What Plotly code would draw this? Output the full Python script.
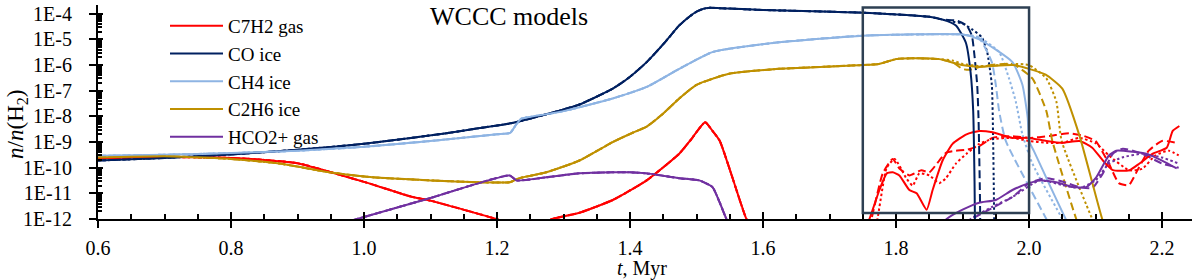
import plotly.graph_objects as go

# ---------------- data (t in Myr, abundance n/n(H2)) ----------------
# C7H2 gas (shared early part, then model variants)
red_t = [0.6, 0.7, 0.8, 0.85, 0.9, 1.0, 1.073, 1.1, 1.199, 1.21,
         1.27, 1.283, 1.324, 1.374, 1.425, 1.474, 1.49, 1.513, 1.524, 1.535, 1.575, 1.58]
red_v = [2.3e-10, 2.6e-10, 2.4e-10, 2.0e-10, 1.5e-10, 2.8e-11, 7.2e-12, 5.2e-12, 1.0e-12, 8e-13,
         7e-13, 1e-12, 1.75e-12, 5.5e-12, 3.2e-11, 3.5e-10, 1.1e-9, 5.9e-9, 2.7e-9, 1.1e-9, 1e-12, 7e-13]
red_solid_t = [1.757, 1.76, 1.775, 1.786, 1.795, 1.805, 1.82, 1.831, 1.846, 1.855, 1.87, 1.885, 1.906,
               1.925, 1.945, 1.975, 2.0, 2.026, 2.05, 2.076, 2.095, 2.111, 2.126, 2.151, 2.166, 2.186,
               2.207, 2.216, 2.226]
red_solid_v = [7e-13, 1e-12, 1.35e-11, 6e-11, 6.6e-11, 5e-11, 1.35e-11, 1e-11, 2.3e-12, 1.35e-11, 1.9e-10,
               8.5e-10, 2e-9, 2.7e-9, 2.4e-9, 1.45e-9, 1.45e-9, 1.1e-9, 9.3e-10, 1.1e-9, 6e-10, 1.9e-10,
               8e-11, 8e-11, 1.45e-10, 3.5e-10, 6e-10, 2.7e-9, 4.2e-9]
red_dash_t = [1.761, 1.763, 1.78, 1.795, 1.805, 1.82, 1.838, 1.85, 1.865, 1.875, 1.89, 1.906, 1.925, 1.945,
              1.975, 2.0, 2.03, 2.06, 2.08, 2.1, 2.12, 2.135, 2.15, 2.165, 2.18, 2.2, 2.225]
red_dash_v = [7e-13, 1e-12, 6e-11, 2.2e-10, 9.3e-11, 5e-11, 8e-11, 6.6e-11, 1.9e-10, 3.8e-10, 4.6e-10, 5e-10,
              7e-10, 1.45e-9, 1.7e-9, 1.45e-9, 1.7e-9, 2.2e-9, 1.8e-9, 1.1e-9, 1.45e-10, 2.5e-11, 2.1e-11,
              1e-10, 4.6e-10, 1.1e-9, 9e-10]
red_dot_t = [1.770, 1.772, 1.786, 1.798, 1.815, 1.825, 1.835, 1.85, 1.865, 1.875, 1.89, 1.906, 1.925, 1.945,
             1.975, 2.0, 2.026, 2.05, 2.076, 2.1, 2.12, 2.15, 2.17, 2.19, 2.21, 2.225]
red_dot_v = [7e-13, 1e-12, 1e-10, 2.2e-10, 4e-11, 2e-11, 6e-11, 5e-11, 2.5e-11, 3.9e-11, 1.45e-10, 3.5e-10,
             8.5e-10, 1.3e-9, 1.45e-9, 1.1e-9, 9.3e-10, 9.3e-10, 1.45e-9, 9e-10, 3e-10, 8e-11, 9e-11, 3e-10,
             4.6e-10, 3e-10]

# CO ice
co_t = [0.6, 0.7, 0.8, 0.9, 1.0, 1.124, 1.174, 1.223, 1.274, 1.324, 1.374, 1.4, 1.425, 1.45, 1.474,
        1.49, 1.5, 1.51, 1.52, 1.535, 1.6, 1.75, 1.85, 1.87]
co_v = [1.9e-10, 2.4e-10, 3.3e-10, 5e-10, 8.5e-10, 2.2e-9, 3.5e-9, 5.5e-9, 1.2e-8, 2.9e-8, 1.2e-7, 3.5e-7,
        1.3e-6, 6.5e-6, 3.5e-5, 8e-5, 1.2e-4, 1.55e-4, 1.7e-4, 1.65e-4, 1.4e-4, 1.1e-4, 7.6e-5, 5.9e-5]
co_solid_t = [1.89, 1.905, 1.912, 1.916, 1.918, 1.919]
co_solid_v = [3.5e-5, 7.4e-6, 5.4e-7, 1.6e-8, 3e-11, 1e-13]
co_dash_t = [1.891, 1.906, 1.914, 1.918, 1.922, 1.924, 1.926, 1.927]
co_dash_v = [5.4e-5, 3.5e-5, 1.4e-5, 2.2e-6, 1.7e-7, 8.5e-9, 1.35e-11, 1e-13]
co_dot_t = [1.876, 1.9, 1.915, 1.929, 1.937, 1.944, 1.946, 1.947, 1.948]
co_dot_v = [5.4e-5, 4.1e-5, 2.4e-5, 1.2e-5, 3.2e-6, 1.7e-7, 1.1e-9, 1.35e-11, 1e-13]

# CH4 ice
ch4_t = [0.6, 0.7, 0.8, 0.9, 1.0, 1.1, 1.2, 1.22, 1.228, 1.236, 1.244, 1.3, 1.374, 1.425, 1.474,
         1.524, 1.624, 1.75, 1.9]
ch4_v = [2.9e-10, 3.2e-10, 3.7e-10, 4.6e-10, 6.5e-10, 1.1e-9, 2e-9, 2.3e-9, 4.5e-9, 8e-9, 9e-9, 1.6e-8,
         5e-8, 1.4e-7, 7.1e-7, 3.2e-6, 7.7e-6, 1.4e-5, 1.55e-5]
ch4_solid_t = [1.925, 1.975, 1.99, 1.998, 2.0, 2.007, 2.031, 2.055, 2.058]
ch4_solid_v = [1e-5, 1.3e-6, 1.7e-7, 8.5e-9, 1.1e-9, 4.6e-10, 2.1e-11, 1e-12, 7e-13]
ch4_dash_t = [1.925, 1.944, 1.95, 1.955, 1.965, 2.026, 2.029]
ch4_dash_v = [1.1e-5, 1.3e-6, 1.7e-7, 1.6e-8, 1.1e-9, 1e-12, 7e-13]
ch4_dot_t = [1.925, 1.955, 1.97, 1.98, 1.99, 2.005, 2.05, 2.053]
ch4_dot_v = [1.2e-5, 3.2e-6, 2.95e-7, 3.8e-8, 2e-9, 1.45e-10, 1e-12, 7e-13]

# C2H6 ice
c2_t = [0.6, 0.7, 0.8, 0.873, 0.95, 1.013, 1.1, 1.174, 1.219, 1.234, 1.274, 1.324, 1.374, 1.404,
        1.425, 1.45, 1.474, 1.5, 1.549, 1.624, 1.749, 1.774, 1.8, 1.825, 1.865]
c2_v = [2.5e-10, 2.8e-10, 2.2e-10, 1.45e-10, 6.5e-11, 4.2e-11, 3.2e-11, 2.7e-11, 2.7e-11, 3.9e-11,
        6.6e-11, 1.9e-10, 1e-9, 2.3e-9, 4e-9, 1.3e-8, 5e-8, 1.7e-7, 4.6e-7, 7.1e-7, 1e-6, 1.1e-6,
        1.7e-6, 1.85e-6, 1.7e-6]
c2_solid_t = [1.899, 1.925, 1.975, 2.0, 2.025, 2.05, 2.076, 2.11, 2.113]
c2_solid_v = [1e-6, 8.5e-7, 1e-6, 7.1e-7, 4.2e-7, 1.2e-7, 1.7e-9, 1e-12, 7e-13]
c2_dash_t = [1.885, 1.9, 1.91, 1.93, 1.975, 2.005, 2.026, 2.035, 2.071, 2.074]
c2_dash_v = [1.3e-6, 7e-7, 6.5e-7, 9e-7, 1.1e-6, 3e-7, 1.6e-8, 1.1e-9, 1e-12, 7e-13]
c2_dot_t = [1.885, 1.9, 1.93, 1.975, 2.0, 2.026, 2.041, 2.049, 2.095, 2.098]
c2_dot_v = [1.5e-6, 1.1e-6, 9e-7, 1.1e-6, 1e-6, 3e-7, 3.8e-8, 1.1e-9, 1e-12, 7e-13]

# HCO2+ gas
pur_t = [0.98, 1.1, 1.219, 1.229, 1.274, 1.324, 1.374, 1.4, 1.425, 1.474, 1.504, 1.524, 1.535, 1.545, 1.55]
pur_v = [8.5e-13, 6.6e-12, 5e-11, 3.2e-11, 4.2e-11, 6e-11, 6.6e-11, 6.6e-11, 6e-11, 3.9e-11, 3.2e-11,
         1.75e-11, 4.3e-12, 1e-12, 7e-13]
pur_solid_t = [1.87, 1.876, 1.9, 1.925, 1.95, 1.975, 2.0, 2.016, 2.041, 2.066, 2.086, 2.101, 2.12, 2.131,
               2.156, 2.176, 2.2, 2.222]
pur_solid_v = [7e-13, 1e-12, 2.3e-12, 4.3e-12, 5.5e-12, 1.35e-11, 2.5e-11, 3.2e-11, 2.7e-11, 1.75e-11,
               1.75e-11, 4.2e-11, 3e-10, 4.6e-10, 4.2e-10, 3.5e-10, 1.9e-10, 9.3e-11]
pur_dash_t = [1.913, 1.915, 1.94, 1.975, 2.0, 2.026, 2.05, 2.076, 2.095, 2.111, 2.126, 2.141, 2.17, 2.2, 2.225]
pur_dash_v = [7e-13, 1e-12, 2.3e-12, 7.2e-12, 2.5e-11, 3.9e-11, 2.9e-11, 1.75e-11, 1.6e-11, 6e-11, 3.5e-10,
              5.5e-10, 3.5e-10, 1.45e-10, 1e-10]
pur_dot_t = [1.91, 1.912, 1.945, 1.975, 2.016, 2.05, 2.076, 2.1, 2.12, 2.14, 2.17, 2.2, 2.225]
pur_dot_v = [7e-13, 1e-12, 3e-12, 7.2e-12, 3.2e-11, 2.1e-11, 1.6e-11, 3.2e-11, 1.45e-10, 2.5e-10, 3.5e-10,
             2.5e-10, 1.45e-10]

y_tick_labels = ["1E-12", "1E-11", "1E-10", "1E-9", "1E-8", "1E-7", "1E-6", "1E-5", "1E-4"]
y_tick_vals = [1e-12, 1e-11, 1e-10, 1e-9, 1e-8, 1e-7, 1e-6, 1e-5, 1e-4]
x_tick_labels = ["0.6", "0.8", "1.0", "1.2", "1.4", "1.6", "1.8", "2.0", "2.2"]
x_tick_vals = [0.6, 0.8, 1.0, 1.2, 1.4, 1.6, 1.8, 2.0, 2.2]
zoom_box_t = [1.75, 2.0]
zoom_box_n = [1.7e-12, 1.74e-4]

# ---------------- styling ----------------
FONT = "Liberation Serif"
W, H = 1200, 280
ML, MR, MT, MB = 98, 8, 3, 61
PW, PH = W - ML - MR, H - MT - MB
SMOOTH = 0.5


def px(xp):
    return (xp - ML) / PW


def py(yp):
    return (MT + PH - yp) / PH


species = [
    ("C7H2 gas", "#FF0000", red_t, red_v, (red_solid_t, red_solid_v), (red_dash_t, red_dash_v), (red_dot_t, red_dot_v)),
    ("CO ice", "#002060", co_t, co_v, (co_solid_t, co_solid_v), (co_dash_t, co_dash_v), (co_dot_t, co_dot_v)),
    ("CH4 ice", "#8EB4E3", ch4_t, ch4_v, (ch4_solid_t, ch4_solid_v), (ch4_dash_t, ch4_dash_v), (ch4_dot_t, ch4_dot_v)),
    ("C2H6 ice", "#BF9000", c2_t, c2_v, (c2_solid_t, c2_solid_v), (c2_dash_t, c2_dash_v), (c2_dot_t, c2_dot_v)),
    ("HCO2+ gas", "#7030A0", pur_t, pur_v, (pur_solid_t, pur_solid_v), (pur_dash_t, pur_dash_v), (pur_dot_t, pur_dot_v)),
]

fig = go.Figure()
# variant models (dotted, dashed) drawn first, without legend entries
for name, col, t0, v0, sol, das, dot in species:
    for (tt, vv), dsh in ((dot, "2.5px,2.5px"), (das, "8px,4px")):
        fig.add_trace(go.Scatter(x=t0 + tt, y=v0 + vv, mode="lines", showlegend=False,
                                 hoverinfo="skip",
                                 line=dict(color=col, width=2, dash=dsh, shape="spline", smoothing=SMOOTH)))
for name, col, t0, v0, sol, das, dot in species:
    fig.add_trace(go.Scatter(x=t0 + sol[0], y=v0 + sol[1], mode="lines", name=name,
                             line=dict(color=col, width=2, shape="spline", smoothing=SMOOTH)))

fig.add_shape(type="rect", xref="x", yref="y", x0=zoom_box_t[0], x1=zoom_box_t[1],
              y0=zoom_box_n[0], y1=zoom_box_n[1], line=dict(color="#2E4053", width=2.5),
              fillcolor="rgba(0,0,0,0)", layer="above")

axis_common = dict(showgrid=False, zeroline=False, showline=True, linecolor="black", linewidth=2,
                   tickcolor="black", tickwidth=2)

fig.update_layout(
    width=W, height=H, margin=dict(l=ML, r=MR, t=MT, b=MB, pad=0),
    paper_bgcolor="white", plot_bgcolor="white",
    font=dict(family=FONT, color="black", size=20),
    xaxis=dict(range=[0.6, 2.245], tickvals=x_tick_vals, ticktext=x_tick_labels,
               ticks="outside", ticklen=7, ticklabelstandoff=3,
               tickfont=dict(family=FONT, size=20, color="black"), **axis_common),
    xaxis2=dict(range=[0.6, 2.245], overlaying="x", anchor="y", side="bottom",
                tickmode="linear", tick0=0.6, dtick=0.2, showticklabels=False, ticks="inside", ticklen=7,
                minor=dict(ticks="inside", ticklen=5, tickwidth=2, tickcolor="black", dtick=0.05, tick0=0.6),
                **axis_common),
    yaxis=dict(type="log", range=[-12, -3.66], tickvals=y_tick_vals, ticktext=y_tick_labels,
               ticks="outside", ticklen=7, ticklabelstandoff=13,
               tickfont=dict(family=FONT, size=20, color="black"), **axis_common),
    yaxis2=dict(type="log", range=[-12, -3.66], overlaying="y", anchor="x", side="left",
                tickmode="linear", tick0=0, dtick=1, showticklabels=False, ticks="inside", ticklen=5,
                minor=dict(ticks="inside", ticklen=4, tickwidth=1.5, tickcolor="black", dtick="D1"),
                **axis_common),
    legend=dict(x=px(165), y=py(5), xanchor="left", yanchor="top", bgcolor="rgba(0,0,0,0)",
                font=dict(family=FONT, size=19, color="black"), itemwidth=53,
                tracegroupgap=0),
    showlegend=True,
)

# invisible trace to activate the overlay axes (crossing ticks)
fig.add_trace(go.Scatter(x=[0.6], y=[1e-12], xaxis="x2", yaxis="y2", mode="markers",
                         marker=dict(opacity=0), showlegend=False, hoverinfo="skip"))

fig.add_annotation(text="WCCC models", xref="paper", yref="paper", x=px(509), y=py(15),
                   xanchor="center", yanchor="middle", showarrow=False,
                   font=dict(family=FONT, size=26, color="black"))
fig.add_annotation(text="<i>t</i>, Myr", xref="paper", yref="paper", x=px(642), y=py(269),
                   xanchor="center", yanchor="middle", showarrow=False,
                   font=dict(family=FONT, size=20, color="black"))
fig.add_annotation(text="<i>n</i>/<i>n</i>(H<sub>2</sub>)", xref="paper", yref="paper",
                   x=px(17), y=py(124), xanchor="center", yanchor="middle", textangle=-90,
                   showarrow=False, font=dict(family=FONT, size=23, color="black"))

fig.write_html("out.html", config={"displayModeBar": False},
               post_script="document.body.style.margin='0px';")
